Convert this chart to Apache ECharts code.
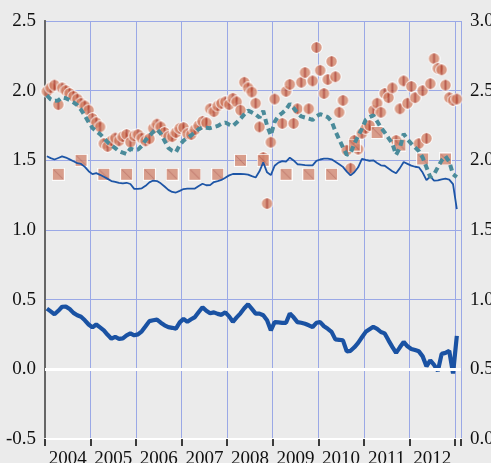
<!DOCTYPE html>
<html>
<head>
<meta charset="utf-8">
<script src="https://cdn.jsdelivr.net/npm/echarts@6/dist/echarts.min.js"></script>
<style>
html, body { margin: 0; padding: 0; background: #ebebeb; }
#main { width: 491px; height: 463px; }
</style>
</head>
<body>
<div id="main"></div>
<script>
// year labels, one per year (placed mid-year)
var yearLabels = ['2004', '2005', '2006', '2007', '2008', '2009', '2010', '2011', '2012'];

// monthly values, Jan 2004 .. Jan 2013
var thickBlue = [
  0.436, 0.416, 0.395, 0.42, 0.449, 0.45, 0.433, 0.405, 0.388, 0.377,
  0.352, 0.322, 0.301, 0.322, 0.301, 0.28, 0.248, 0.22, 0.233, 0.219,
  0.222, 0.244, 0.258, 0.244, 0.251, 0.273, 0.309, 0.346, 0.352, 0.357,
  0.335, 0.316, 0.303, 0.298, 0.292, 0.337, 0.362, 0.341, 0.359, 0.375,
  0.411, 0.446, 0.42, 0.402, 0.409, 0.398, 0.391, 0.409, 0.38, 0.341,
  0.373, 0.402, 0.438, 0.467, 0.434, 0.4, 0.4, 0.388, 0.352, 0.28,
  0.339, 0.337, 0.334, 0.334, 0.4, 0.373, 0.339, 0.334, 0.327, 0.316,
  0.304, 0.334, 0.339, 0.309, 0.291, 0.269, 0.215, 0.212, 0.208, 0.129,
  0.133, 0.158, 0.19, 0.23, 0.269, 0.287, 0.305, 0.291, 0.268, 0.258,
  0.208, 0.161, 0.118, 0.158, 0.197, 0.165, 0.146, 0.138, 0.129, 0.093,
  0.022, 0.065, 0.032, -0.012, 0.111, 0.118, 0.133, -0.03, 0.24
];

var thinBlue = [
  1.529, 1.516, 1.506, 1.517, 1.528, 1.52, 1.507, 1.493, 1.48, 1.474,
  1.453, 1.422, 1.401, 1.408, 1.396, 1.382, 1.367, 1.351, 1.346, 1.338,
  1.335, 1.339, 1.33, 1.295, 1.295, 1.299, 1.317, 1.342, 1.355, 1.351,
  1.335, 1.312, 1.288, 1.273, 1.269, 1.281, 1.294, 1.297, 1.297, 1.298,
  1.316, 1.332, 1.321, 1.322, 1.344, 1.351, 1.359, 1.375, 1.392, 1.402,
  1.403, 1.402, 1.401, 1.398, 1.387, 1.377, 1.421, 1.485, 1.414, 1.394,
  1.461, 1.484, 1.494, 1.491, 1.519, 1.499, 1.472, 1.469, 1.466, 1.464,
  1.464, 1.496, 1.506, 1.512, 1.512, 1.507, 1.49, 1.472, 1.453, 1.419,
  1.392, 1.414, 1.45, 1.511, 1.503, 1.497, 1.5, 1.481, 1.464, 1.461,
  1.441, 1.422, 1.407, 1.444, 1.488, 1.475, 1.462, 1.454, 1.45, 1.412,
  1.358, 1.384, 1.354, 1.356, 1.364, 1.368, 1.362, 1.329, 1.15
];

var tealDash = [
  1.966, 1.938, 1.927, 1.93, 1.952, 1.946, 1.932, 1.916, 1.896, 1.863,
  1.82, 1.774, 1.732, 1.71, 1.688, 1.66, 1.63, 1.608, 1.588, 1.566,
  1.555, 1.545, 1.584, 1.574, 1.577, 1.604, 1.645, 1.675, 1.704, 1.723,
  1.692, 1.64, 1.59, 1.569, 1.559, 1.61, 1.641, 1.66, 1.679, 1.701,
  1.724, 1.736, 1.733, 1.731, 1.739, 1.747, 1.762, 1.771, 1.757, 1.746,
  1.771, 1.799, 1.83, 1.857, 1.844, 1.829, 1.807, 1.855, 1.75, 1.68,
  1.776, 1.819, 1.84, 1.864, 1.906, 1.875, 1.841, 1.815, 1.807, 1.799,
  1.79, 1.815, 1.832, 1.822, 1.81, 1.78, 1.71, 1.65, 1.593, 1.54,
  1.55, 1.62, 1.674, 1.728, 1.79, 1.81, 1.823, 1.78, 1.735, 1.7,
  1.66, 1.621, 1.54, 1.59, 1.69, 1.65, 1.62, 1.593, 1.566, 1.52,
  1.45, 1.38, 1.40, 1.45, 1.50, 1.53, 1.49, 1.40, 1.38
];

var circleValues = [
  1.995, 2.02, 2.04, 1.90, 2.02, 2.0, 1.98, 1.96, 1.94, 1.91,
  1.89, 1.86, 1.80, 1.77, 1.74, 1.62, 1.60, 1.64, 1.66, 1.64,
  1.67, 1.685, 1.63, 1.675, 1.685, 1.66, 1.64, 1.655, 1.73, 1.76,
  1.74, 1.70, 1.67, 1.67, 1.70, 1.73, 1.735, 1.69, 1.685, 1.72,
  1.75, 1.78, 1.77, 1.87, 1.85, 1.89, 1.91, 1.92, 1.90, 1.945,
  1.92, 1.86, 2.06, 2.02, 1.99, 1.91, 1.74, 1.52, 1.19, 1.63,
  1.94, null, 1.765, 1.995, 2.045, 1.765, 1.87, 2.06, 2.13, 1.87,
  2.07, 2.31, 2.146, 1.98, 2.08, 2.21, 2.10, 1.845, 1.93, 1.572,
  1.443, 1.643, 1.58, 1.694, 1.73, 1.75, 1.859, 1.91, 1.845, 1.98,
  1.95, 2.02, 1.643, 1.87, 2.07, 1.91, 2.03, 1.95, 1.62, 2.0,
  1.658, 2.05, 2.23, 2.16, 2.15, 2.04, 1.95, 1.93, 1.94
];

var squareMonths = [3, 9, 15, 21, 27, 33, 39, 45, 51, 57, 63, 69, 75, 81, 87, 93, 99, 105];
var squareValues = [1.40, 1.50, 1.40, 1.40, 1.40, 1.40, 1.40, 1.40, 1.50, 1.50, 1.40, 1.40, 1.40, 1.61, 1.70, 1.61, 1.51, 1.51];

// month index -> x value (middle of the month)
function monthly(arr) {
  var out = [];
  for (var i = 0; i < arr.length; i++) {
    if (arr[i] != null) out.push([i + 0.5, arr[i]]);
  }
  return out;
}

// striped circle marker
function circleSymbol() {
  var c = document.createElement('canvas');
  c.width = 26; c.height = 26;
  var g = c.getContext('2d');
  g.beginPath(); g.arc(13, 13, 12.5, 0, Math.PI * 2);
  g.fillStyle = '#ffffff'; g.fill();
  g.beginPath(); g.arc(13, 13, 10.5, 0, Math.PI * 2);
  g.fillStyle = '#d6866b'; g.fill();
  g.save(); g.clip();
  g.fillStyle = '#ad3b2a';
  g.fillRect(11, 0, 4, 26);
  g.restore();
  return 'image://' + c.toDataURL();
}

// hatched square marker
function squareSymbol() {
  var c = document.createElement('canvas');
  c.width = 26; c.height = 26;
  var g = c.getContext('2d');
  g.fillStyle = '#ffffff'; g.fillRect(0, 0, 26, 26);
  g.fillStyle = '#d48a74'; g.fillRect(2, 2, 22, 22);
  g.strokeStyle = '#b0584a'; g.lineWidth = 1.5;
  g.beginPath(); g.moveTo(4, 4); g.lineTo(22, 22); g.stroke();
  return 'image://' + c.toDataURL();
}

var labelFont = { fontFamily: 'Liberation Serif', fontSize: 19, color: '#111' };

var chart = echarts.init(document.getElementById('main'));

var option = {
  backgroundColor: '#ebebeb',
  animation: false,
  grid: { left: 45, right: 30, top: 21, bottom: 24, containLabel: false, outerBoundsMode: 'none' },
  xAxis: [
    {
      type: 'value', min: 0, max: 109.6, interval: 12,
      axisLine: { show: true, onZero: false, lineStyle: { color: '#ffffff', width: 2 } },
      axisTick: { show: true, length: 7, lineStyle: { color: '#000', width: 1.5 } },
      axisLabel: { show: false },
      splitLine: { show: true, lineStyle: { color: '#9aa8e6', width: 1 } }
    },
    {
      type: 'value', min: 0, max: 109.6, interval: 6, position: 'bottom',
      axisLine: { show: false, onZero: false }, axisTick: { show: false }, splitLine: { show: false },
      axisLabel: Object.assign({
        margin: 11,
        formatter: function (v) {
          var r = v % 12;
          if (Math.abs(r - 6) < 0.01) return yearLabels[Math.floor(v / 12)] || '';
          return '';
        }
      }, labelFont)
    }
  ],
  yAxis: [
    {
      type: 'value', min: -0.5, max: 2.5, interval: 0.5, position: 'left',
      axisLine: { show: true, lineStyle: { color: '#111', width: 1.5 } },
      axisTick: { show: false },
      axisLabel: Object.assign({ margin: 9, formatter: function (v) { return v.toFixed(1); } }, labelFont),
      splitLine: { show: true, lineStyle: { color: '#9aa8e6', width: 1 } }
    },
    {
      type: 'value', min: 0, max: 3, interval: 0.5, position: 'right',
      axisLine: { show: true, lineStyle: { color: '#666', width: 2 } },
      axisTick: { show: false },
      axisLabel: Object.assign({ margin: 9, formatter: function (v) { return v.toFixed(1); } }, labelFont),
      splitLine: { show: false }
    }
  ],
  series: [
    {
      type: 'scatter', silent: true,
      symbol: circleSymbol(), symbolSize: 13,
      data: monthly(circleValues),
      markLine: {
        silent: true, symbol: 'none', label: { show: false },
        lineStyle: { color: '#ffffff', width: 3, type: 'solid' },
        data: [{ yAxis: 0 }]
      }
    },
    {
      type: 'scatter', silent: true,
      symbol: squareSymbol(), symbolSize: 13,
      data: squareMonths.map(function (m, i) { return [m + 0.5, squareValues[i]]; })
    },
    {
      type: 'line', silent: true, showSymbol: false,
      lineStyle: { color: '#1d55a6', width: 1.8 },
      data: monthly(thinBlue)
    },
    {
      type: 'line', silent: true, showSymbol: false,
      lineStyle: { color: '#4a8b9a', width: 4, type: [6, 4] },
      data: monthly(tealDash)
    },
    {
      type: 'line', silent: true, showSymbol: false,
      lineStyle: { color: '#1a52a3', width: 4.2 },
      data: monthly(thickBlue)
    }
  ]
};

chart.setOption(option);
</script>
</body>
</html>
